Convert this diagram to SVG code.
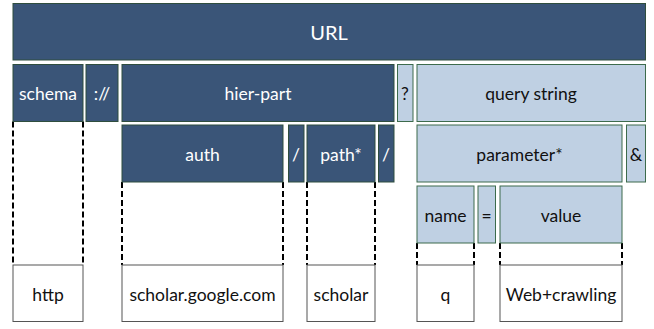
<svg xmlns="http://www.w3.org/2000/svg" width="654" height="329" viewBox="0 0 654 329">
  <style>
    .dark rect { fill: #3A5578; stroke: #2F4E3E; stroke-width: 1; }
    .light rect { fill: #BFD0E3; stroke: #3D6B4C; stroke-width: 1; }
    .plain rect { fill: #FFFFFF; stroke: #555555; stroke-width: 1; }
    text { font-family: Lato, "Open Sans", "Liberation Sans", sans-serif; font-size: 17.5px; text-anchor: middle; dominant-baseline: central; }
    .dark text { fill: #FFFFFF; }
    .light text, .plain text { fill: #111111; }
    .big text { font-size: 20px; }
    #connectors line { stroke: #000000; stroke-width: 2; stroke-dasharray: 6 3; }
  </style>
  <rect width="654" height="329" fill="#FFFFFF"/>

  <!-- dashed guides from each part down to its value -->
  <g id="connectors">
    <line x1="13" y1="121.5" x2="13" y2="265"/>
    <line x1="83" y1="121.5" x2="83" y2="265"/>
    <line x1="122" y1="182" x2="122" y2="265"/>
    <line x1="283" y1="182" x2="283" y2="265"/>
    <line x1="307" y1="182" x2="307" y2="265"/>
    <line x1="375" y1="182" x2="375" y2="265"/>
    <line x1="417" y1="243" x2="417" y2="265"/>
    <line x1="474" y1="243" x2="474" y2="265"/>
    <line x1="500" y1="243" x2="500" y2="265"/>
    <line x1="622" y1="243" x2="622" y2="265"/>
  </g>

  <!-- top level -->
  <g id="url" class="dark big"><rect x="13" y="3.5" width="632.5" height="56.5"/><text x="329" y="32">URL</text></g>

  <!-- second level -->
  <g id="schema" class="dark"><rect x="13" y="64.5" width="70" height="57"/><text x="48" y="93">schema</text></g>
  <g id="sep-scheme" class="dark"><rect x="86" y="64.5" width="32" height="57"/><text x="102" y="93">://</text></g>
  <g id="hier-part" class="dark"><rect x="122" y="64.5" width="272" height="57"/><text x="258" y="93">hier-part</text></g>
  <g id="sep-query" class="light"><rect x="397.5" y="64.5" width="15.5" height="57"/><text x="405" y="93">?</text></g>
  <g id="query-string" class="light"><rect x="417" y="64.5" width="228.5" height="57"/><text x="531" y="93">query string</text></g>

  <!-- third level -->
  <g id="auth" class="dark"><rect x="122" y="125" width="161" height="57"/><text x="202.5" y="154">auth</text></g>
  <g id="sep-path1" class="dark"><rect x="288.5" y="125" width="15.5" height="57"/><text x="296" y="154">/</text></g>
  <g id="path" class="dark"><rect x="307" y="125" width="68" height="57"/><text x="341" y="154">path*</text></g>
  <g id="sep-path2" class="dark"><rect x="378.5" y="125" width="15.5" height="57"/><text x="386" y="154">/</text></g>
  <g id="parameter" class="light"><rect x="417" y="125" width="205" height="57"/><text x="519.5" y="154">parameter*</text></g>
  <g id="sep-param" class="light"><rect x="626.5" y="125" width="19" height="57"/><text x="636" y="154">&amp;</text></g>

  <!-- fourth level -->
  <g id="name" class="light"><rect x="417" y="186" width="57" height="57"/><text x="445.5" y="215">name</text></g>
  <g id="sep-eq" class="light"><rect x="478" y="186" width="17.5" height="57"/><text x="486.7" y="215">=</text></g>
  <g id="value" class="light"><rect x="500" y="186" width="122" height="57"/><text x="561" y="215">value</text></g>

  <!-- concrete values -->
  <g id="val-http" class="plain"><rect x="13" y="265" width="70" height="56.5"/><text x="48" y="294">http</text></g>
  <g id="val-host" class="plain"><rect x="122" y="265" width="161" height="56.5"/><text x="202.5" y="294">scholar.google.com</text></g>
  <g id="val-path" class="plain"><rect x="307" y="265" width="68" height="56.5"/><text x="341" y="294">scholar</text></g>
  <g id="val-q" class="plain"><rect x="417" y="265" width="57" height="56.5"/><text x="445.5" y="294">q</text></g>
  <g id="val-terms" class="plain"><rect x="500" y="265" width="122" height="56.5"/><text x="561" y="294">Web+crawling</text></g>
</svg>
